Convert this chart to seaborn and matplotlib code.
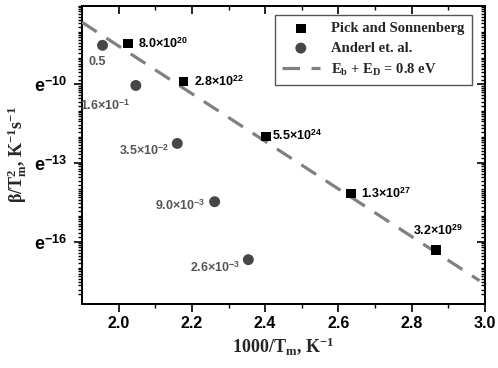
import numpy as np
import matplotlib
matplotlib.use("Agg")
import matplotlib.pyplot as plt
from matplotlib.ticker import FixedLocator, NullFormatter, FixedFormatter
import seaborn as sns

# ---- data ----
pick_x = [2.025, 2.177, 2.403, 2.635, 2.867]
pick_lny = [-8.44, -9.89, -11.98, -14.16, -16.30]
pick_labels = ["8.0×10^{20}", "2.8×10^{22}", "5.5×10^{24}", "1.3×10^{27}", "3.2×10^{29}"]

anderl_x = [1.956, 2.047, 2.160, 2.262, 2.354]
anderl_lny = [-8.51, -10.04, -12.25, -14.47, -16.68]
anderl_labels = ["0.5", "1.6×10^{-1}", "3.5×10^{-2}", "9.0×10^{-3}", "2.6×10^{-3}"]

fit_x = [1.90, 2.985]
fit_lny = [-7.63, -17.48]

y_tick_exps = [-16, -13, -10]

# ---- style ----
sns.set_theme(style="ticks")
plt.rcParams["mathtext.fontset"] = "custom"
plt.rcParams["mathtext.rm"] = "Liberation Serif:bold"
plt.rcParams["mathtext.it"] = "Liberation Serif:italic:bold"
plt.rcParams["mathtext.bf"] = "Liberation Serif:bold"
plt.rcParams["mathtext.sf"] = "Liberation Sans:bold"
plt.rcParams["font.family"] = ["Liberation Sans", "DejaVu Sans"]
plt.rcParams["xtick.color"] = "black"
plt.rcParams["ytick.color"] = "black"


def mtxt(lab):
    if "^" in lab:
        base, exp = lab[:-1].split("^{")
        return r"$\mathsf{%s}^{\mathsf{%s}}$" % (base, exp)
    return lab


fig = plt.figure(figsize=(4.98, 3.68), dpi=100)
fig.patch.set_facecolor("white")
ax = fig.add_axes([82 / 498, 1 - 304 / 368, 403 / 498, 298.3 / 368])
ax.set_yscale("log", base=np.e)

pick_y = np.exp(pick_lny)
anderl_y = np.exp(anderl_lny)
fit_y = np.exp(fit_lny)

sns.scatterplot(x=pick_x, y=pick_y, marker="s", color="black", s=48,
                edgecolor="none", label="Pick and Sonnenberg", ax=ax, zorder=4)
sns.scatterplot(x=anderl_x, y=anderl_y, marker="o", color="#474747", s=62,
                edgecolor="none", label="Anderl et. al.", ax=ax, zorder=4)
sns.lineplot(x=fit_x, y=fit_y, color="#808080", linewidth=2.3,
             linestyle=(0, (5.5, 3.6)),
             label=r"E$_\mathrm{b}$ + E$_\mathrm{D}$ = 0.8 eV", ax=ax, zorder=3)

XLIM = (1.9, 3.0)
YLIM = (np.exp(-18.37), np.exp(-7.0))
ax.set_xlim(*XLIM)
ax.set_ylim(*YLIM)

xmaj = [2.0, 2.2, 2.4, 2.6, 2.8, 3.0]
xmin = [2.1, 2.3, 2.5, 2.7, 2.9]
int_exps = list(range(-18, -6))
ymaj = [np.exp(e) for e in y_tick_exps]
ymid = [np.exp(e) for e in int_exps if e not in y_tick_exps]
ymin_t = [np.exp(e) * k for e in int_exps for k in np.arange(1.2, 2.7, 0.2)]

ax.xaxis.set_major_locator(FixedLocator(xmaj))
ax.xaxis.set_minor_locator(FixedLocator(xmin))
ax.xaxis.set_major_formatter(FixedFormatter([f"{v:.1f}" for v in xmaj]))
ax.yaxis.set_major_locator(FixedLocator(ymaj))
ax.yaxis.set_major_formatter(FixedFormatter([r"$\mathsf{e}^{\mathsf{%d}}$" % e for e in y_tick_exps]))
ax.yaxis.set_minor_locator(FixedLocator(ymid + ymin_t))
ax.yaxis.set_minor_formatter(NullFormatter())

ax.tick_params(which="major", direction="out", length=5.5, width=1.2, color="black",
               bottom=True, left=True, top=False, right=False)
ax.tick_params(axis="x", which="major", labelsize=11.5, pad=3)
ax.tick_params(axis="y", which="major", labelsize=13, pad=5)
ax.tick_params(which="minor", direction="out", length=3.2, width=1.0, color="black",
               bottom=True, left=True, top=False, right=False)
for t in ax.get_xticklabels():
    t.set_fontweight("bold")
for sp in ax.spines.values():
    sp.set_linewidth(1.2)
    sp.set_color("black")
    sp.set_visible(True)

# mirrored ticks (inward) on top and right via twin axes
axt = ax.twiny()
axt.set_xlim(*XLIM)
axt.xaxis.set_major_locator(FixedLocator(xmaj))
axt.xaxis.set_minor_locator(FixedLocator(xmin))
axt.tick_params(which="major", direction="in", length=5.5, width=1.2, color="black",
                top=True, labeltop=False, bottom=False, labelbottom=False)
axt.tick_params(which="minor", direction="in", length=3.2, width=1.0, color="black",
                top=True, bottom=False)

axr = ax.twinx()
axr.set_yscale("log", base=np.e)
axr.set_ylim(*YLIM)
axr.yaxis.set_major_locator(FixedLocator(ymaj))
axr.yaxis.set_minor_locator(FixedLocator(ymid + ymin_t))
axr.yaxis.set_minor_formatter(NullFormatter())
axr.tick_params(which="major", direction="in", length=5.5, width=1.2, color="black",
                right=True, labelright=False, left=False, labelleft=False)
axr.tick_params(which="minor", direction="in", length=3.2, width=1.0, color="black",
                right=True, left=False)
for a in (axt, axr):
    for sp in a.spines.values():
        sp.set_linewidth(1.2)
        sp.set_color("black")

# labels
ax.set_xlabel(r"1000/T$_\mathrm{m}$, K$^{\mathrm{-1}}$", fontsize=13,
              family="Liberation Serif", fontweight="bold", labelpad=3)
ax.set_ylabel(r"$\mathrm{\beta}$/T$_\mathrm{m}^\mathrm{2}$, K$^{\mathrm{-1}}$s$^{\mathrm{-1}}$",
              fontsize=13, family="Liberation Serif", fontweight="bold", labelpad=4)

# annotations
pick_off = [(10, 0), (11, 0), (6, 1), (9.5, 0), (2, 19)]
for i, (x, y, lab, (dx, dy)) in enumerate(zip(pick_x, pick_y, pick_labels, pick_off)):
    ha = "center" if i == 4 else "left"
    ax.annotate(mtxt(lab), (x, y), xytext=(dx * 0.72, dy * 0.72),
                textcoords="offset points", ha=ha, va="center", fontsize=9,
                color="black", fontweight="bold", zorder=5)

anderl_off = [(-5, -17), (-5, -20), (-8, -7), (-9, -4), (-8, -8)]
for i, (x, y, lab, (dx, dy)) in enumerate(zip(anderl_x, anderl_y, anderl_labels, anderl_off)):
    ha = "center" if i == 0 else "right"
    ax.annotate(mtxt(lab), (x, y), xytext=(dx * 0.72, dy * 0.72),
                textcoords="offset points", ha=ha, va="center", fontsize=9,
                color="#555555", fontweight="bold", zorder=5)

# legend
leg = ax.legend(loc="upper right", bbox_to_anchor=(0.968, 0.970), borderaxespad=0,
                prop={"family": "Liberation Serif", "weight": "bold", "size": 10.5},
                frameon=True, fancybox=False, edgecolor="#555555", framealpha=1,
                handlelength=2.6, handletextpad=0.8, labelspacing=0.45, borderpad=0.5)
leg.get_frame().set_linewidth(1.0)
leg.set_zorder(10)
ax.set_zorder(axt.get_zorder() + 2)
ax.patch.set_visible(False)

fig.savefig("out.png", dpi=100, facecolor="white")
